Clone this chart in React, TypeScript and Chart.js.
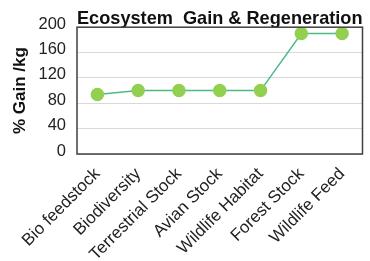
import React, { useEffect, useRef } from "react";
import { Chart, registerables } from "chart.js";

Chart.register(...registerables);

const categories = [
  "Bio feedstock",
  "Biodiversity",
  "Terrestrial Stock",
  "Avian Stock",
  "Wildlife Habitat",
  "Forest Stock",
  "Wildlife Feed",
];
const gainValues = [94, 100, 100, 100, 100, 190, 190];
const chartTitle = "Ecosystem  Gain & Regeneration";
const yAxisTitle = "% Gain /kg";

const FONT = "'Liberation Sans', Arial, sans-serif";

const borderPlugin = {
  id: "plotBorder",
  afterDraw(chart: any) {
    const { ctx, chartArea } = chart;
    ctx.save();
    ctx.strokeStyle = "#404040";
    ctx.lineWidth = 1.5;
    ctx.strokeRect(chartArea.left, chartArea.top, chartArea.right - chartArea.left, chartArea.bottom - chartArea.top);
    ctx.restore();
  },
};

export default function App() {
  const ref = useRef<HTMLCanvasElement>(null);
  useEffect(() => {
    if (!ref.current) return;
    const chart = new Chart(ref.current, {
      type: "line",
      data: {
        labels: categories,
        datasets: [
          {
            data: gainValues,
            borderColor: "#4cba86",
            borderWidth: 1.5,
            pointBackgroundColor: "#92d050",
            pointBorderColor: "#92d050",
            pointRadius: 6,
            tension: 0,
          },
        ],
      },
      options: {
        animation: false,
        responsive: true,
        maintainAspectRatio: false,
        layout: { padding: { left: 0, right: 6, top: 0, bottom: 0 } },
        plugins: {
          legend: { display: false },
          tooltip: { enabled: false },
          title: {
            display: true,
            text: chartTitle,
            fullSize: false,
            color: "#111",
            font: { family: FONT, size: 18.5, weight: "bold" },
            padding: { top: 8, bottom: -3 },
          },
        },
        scales: {
          x: {
            offset: true,
            grid: { display: false, drawTicks: false },
            border: { display: false },
            ticks: {
              color: "#222",
              font: { family: FONT, size: 17 },
              maxRotation: 45,
              minRotation: 45,
              autoSkip: false,
              padding: 10,
            },
            afterFit(scale: any) {
              scale.height = 107;
            },
          },
          y: {
            min: 0,
            max: 200,
            grid: { color: "#d9d9d9", drawTicks: false, lineWidth: 1 },
            border: { display: false },
            ticks: {
              stepSize: 40,
              color: "#222",
              font: { family: FONT, size: 16.5 },
              padding: 11,
              labelOffset: -3,
            },
            title: {
              display: true,
              text: yAxisTitle,
              color: "#111",
              font: { family: FONT, size: 17, weight: "bold" },
              padding: { top: 10, bottom: 0 },
            },
            afterFit(scale: any) {
              scale.width = 77;
            },
          },
        },
      },
      plugins: [borderPlugin],
    });
    return () => chart.destroy();
  }, []);
  return (
    <div style={{ position: "absolute", left: 0, top: 0, width: 370, height: 261, background: "#fff" }}>
      <canvas ref={ref} />
    </div>
  );
}
